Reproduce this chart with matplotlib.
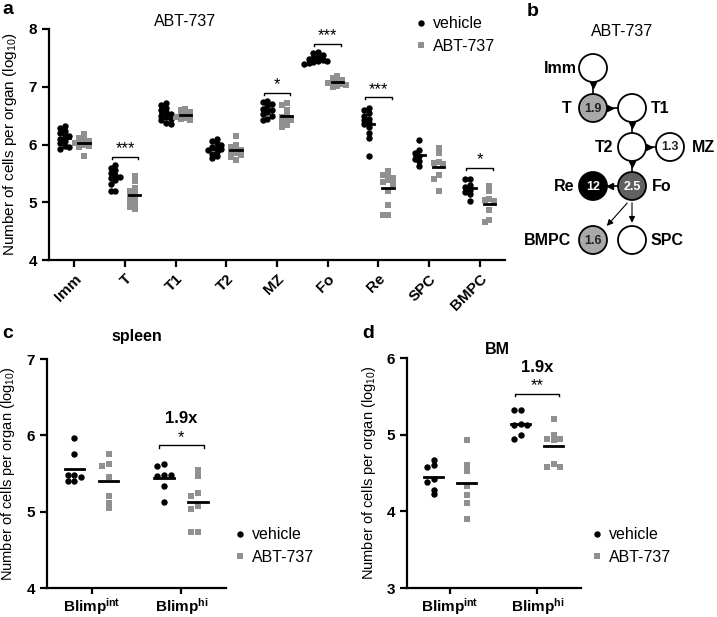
import numpy as np
import matplotlib
matplotlib.use('Agg')
import matplotlib.pyplot as plt
from matplotlib.patches import Circle
from matplotlib.lines import Line2D

plt.rcParams['font.family'] = ['Liberation Sans', 'DejaVu Sans']
plt.rcParams['mathtext.fontset'] = 'custom'
plt.rcParams['mathtext.rm'] = 'Liberation Sans'
plt.rcParams['mathtext.bf'] = 'Liberation Sans:bold'
plt.rcParams['mathtext.it'] = 'Liberation Sans:italic'

W, H = 717, 617
GRAY = '#8f8f8f'

# ---- panel a data (log10 cells per organ) ----
subsets = ["Imm", "T", "T1", "T2", "MZ", "Fo", "Re", "SPC", "BMPC"]
vehicle_a = [
    [6.32, 6.28, 6.24, 6.20, 6.16, 6.14, 6.10, 6.06, 6.02, 5.98, 5.95, 5.92],
    [5.65, 5.60, 5.55, 5.50, 5.47, 5.44, 5.42, 5.38, 5.32, 5.20, 5.20],
    [6.71, 6.68, 6.64, 6.60, 6.56, 6.53, 6.50, 6.48, 6.45, 6.42, 6.38, 6.36],
    [6.09, 6.06, 6.02, 5.99, 5.96, 5.94, 5.92, 5.90, 5.87, 5.84, 5.80, 5.77],
    [6.75, 6.74, 6.70, 6.66, 6.62, 6.60, 6.56, 6.52, 6.50, 6.45, 6.42],
    [7.60, 7.58, 7.55, 7.52, 7.50, 7.48, 7.47, 7.45, 7.44, 7.42, 7.41, 7.40],
    [6.63, 6.60, 6.55, 6.50, 6.45, 6.42, 6.38, 6.35, 6.30, 6.20, 6.11, 5.80],
    [6.08, 5.90, 5.85, 5.80, 5.75, 5.72, 5.62],
    [5.41, 5.40, 5.30, 5.26, 5.22, 5.18, 5.14, 5.02],
]
abt_a = [
    [6.18, 6.12, 6.08, 6.06, 6.04, 6.02, 6.00, 5.98, 5.95, 5.80],
    [5.45, 5.36, 5.25, 5.20, 5.16, 5.12, 5.08, 5.03, 4.98, 4.92, 4.88],
    [6.62, 6.60, 6.57, 6.54, 6.52, 6.50, 6.48, 6.46, 6.44, 6.42],
    [6.14, 6.00, 5.96, 5.92, 5.90, 5.88, 5.85, 5.82, 5.78, 5.74],
    [6.72, 6.68, 6.60, 6.52, 6.48, 6.44, 6.42, 6.38, 6.34, 6.30],
    [7.18, 7.16, 7.12, 7.10, 7.08, 7.07, 7.05, 7.03, 7.01, 6.99],
    [5.54, 5.48, 5.45, 5.42, 5.38, 5.35, 5.32, 5.20, 4.95, 4.78, 4.78],
    [5.94, 5.85, 5.70, 5.68, 5.66, 5.47, 5.40, 5.20],
    [5.28, 5.20, 5.06, 5.04, 5.02, 4.86, 4.70, 4.65],
]
sig_a = [("T", 5.79, "***"), ("MZ", 6.90, "*"), ("Fo", 7.74, "***"),
         ("Re", 6.82, "***"), ("BMPC", 5.60, "*")]

# ---- panel b data (fold reduction) ----
nodes = ["Imm", "T", "T1", "T2", "MZ", "Fo", "Re", "BMPC", "SPC"]
fold = ["", "1.9", "", "", "1.3", "2.5", "12", "1.6", ""]
node_fill = ["white", "#a9a9a9", "white", "white", "white", "#606060", "black", "#a9a9a9", "white"]

# ---- panels c, d data ----
blimp = [r"Blimp$^{\mathbf{int}}$", r"Blimp$^{\mathbf{hi}}$"]
vehicle_c = [[5.97, 5.76, 5.48, 5.48, 5.46, 5.40, 5.40],
             [5.63, 5.60, 5.48, 5.47, 5.48, 5.34, 5.13]]
abt_c = [[5.76, 5.62, 5.60, 5.45, 5.20, 5.11, 5.05],
         [5.54, 5.47, 5.25, 5.20, 5.07, 5.03, 4.74, 4.74]]
vehicle_d = [[4.67, 4.60, 4.58, 4.42, 4.38, 4.28, 4.22],
             [5.32, 5.32, 5.14, 5.13, 5.12, 5.00, 4.95]]
abt_d = [[4.93, 4.60, 4.53, 4.33, 4.21, 4.11, 3.90],
         [5.20, 5.00, 4.95, 4.94, 4.93, 4.62, 4.58, 4.58]]


def px(x, y):
    return x / W, 1 - y / H


def swarm(vals, dy, step):
    placed = []
    offs = []
    for v in vals:
        for c in [0, -1, 1, -2, 2, -3, 3, -4, 4]:
            if all(abs(v - pv) > dy or c != pc for pv, pc in placed):
                break
        placed.append((v, c))
        offs.append(c * step)
    return np.array(offs)


def style_axes(ax):
    for s in ['top', 'right']:
        ax.spines[s].set_visible(False)
    for s in ['left', 'bottom']:
        ax.spines[s].set_linewidth(1.6)
    ax.tick_params(width=1.6, length=5, labelsize=11)
    for lab in ax.get_yticklabels():
        lab.set_fontweight('bold')


def draw_groups(ax, veh, abt, dx, dy, step, half):
    for i, (v, a) in enumerate(zip(veh, abt)):
        v = np.array(v)
        a = np.array(a)
        ax.plot(i - dx + swarm(v, dy, step), v, 'o', color='black', ms=4.6, mew=0, zorder=3)
        ax.plot(i + dx + swarm(a, dy, step), a, 's', color=GRAY, ms=4.2, mew=0, zorder=3)
        ax.plot([i - dx - half, i - dx + half], [v.mean()] * 2, color='black', lw=2, zorder=4)
        ax.plot([i + dx - half, i + dx + half], [a.mean()] * 2, color='black', lw=2, zorder=4)


def bracket(ax, x, y, label, hw, tick, fs=12):
    ax.plot([x - hw, x - hw, x + hw, x + hw], [y - tick, y, y, y - tick], color='black', lw=1)
    ax.text(x, y + tick * 0.2, label, ha='center', va='bottom', fontsize=fs)


def legend(ax, x, y):
    ax.legend(handles=[Line2D([], [], marker='o', ls='', color='black', ms=4.6, mew=0, label='vehicle'),
                       Line2D([], [], marker='s', ls='', color=GRAY, ms=4.2, mew=0, label='ABT-737')],
              loc='upper left', bbox_to_anchor=px(x, y), bbox_transform=fig.transFigure,
              frameon=False, fontsize=11.5, handlelength=0.6, handletextpad=0.45, labelspacing=0.45,
              borderaxespad=0)


fig = plt.figure(figsize=(W / 100, H / 100), dpi=100)

# ---- panel b (diagram, pixel coordinates) ----
axb = fig.add_axes([0, 0, 1, 1])
axb.set_xlim(0, W)
axb.set_ylim(H, 0)
axb.axis('off')
axb.patch.set_visible(False)

pos = {"Imm": (593, 68), "T": (593, 108), "T1": (632, 108), "T2": (632, 147),
       "MZ": (670, 147), "Fo": (632, 186), "Re": (593, 186), "BMPC": (593, 240), "SPC": (632, 240)}
lab_pos = {"Imm": (577, 68, 'right'), "T": (571, 108, 'right'), "T1": (651, 108, 'left'),
           "T2": (613, 147, 'right'), "MZ": (692, 147, 'left'), "Fo": (652, 186, 'left'),
           "Re": (574, 186, 'right'), "BMPC": (571, 240, 'right'), "SPC": (651, 240, 'left')}
R = 14

# connecting lines with small triangle heads
links = [("Imm", "T", 'v'), ("T", "T1", '>'), ("T1", "T2", 'v'), ("T2", "MZ", '>'), ("T2", "Fo", 'v')]
for a, b, m in links:
    (x0, y0), (x1, y1) = pos[a], pos[b]
    axb.plot([x0, x1], [y0, y1], color='black', lw=1.2, zorder=1)
    if m == 'v':
        axb.plot(x0, y0 + R + 2.5, 'v', color='black', ms=5, zorder=1)
    else:
        axb.plot(x0 + R + 2.5, y0, '>', color='black', ms=5, zorder=1)
axb.plot([pos["Fo"][0], pos["Re"][0]], [pos["Re"][1]] * 2, color='black', lw=1.2, zorder=1)
axb.plot(pos["Re"][0] + R + 3, pos["Re"][1], '<', color='black', ms=5, zorder=1)
axb.annotate("", xy=(605, 228), xytext=(629, 201),
             arrowprops=dict(arrowstyle='-|>', color='black', lw=0.8, mutation_scale=9))
axb.annotate("", xy=(632, 225.5), xytext=(632, 200),
             arrowprops=dict(arrowstyle='-|>', color='black', lw=0.8, mutation_scale=9))

for name, f, c in zip(nodes, fold, node_fill):
    x, y = pos[name]
    axb.add_patch(Circle((x, y), R, facecolor=c, edgecolor='black', lw=1.3, zorder=2))
    if f:
        tc = 'white' if c in ('black', '#606060') else '#222222'
        axb.text(x, y + 0.5, f, ha='center', va='center', fontsize=9, fontweight='bold', color=tc, zorder=3)
    lx, ly, ha = lab_pos[name]
    axb.text(lx, ly + 0.5, name, ha=ha, va='center', fontsize=11.5, fontweight='bold')
axb.text(622, 31, "ABT-737", ha='center', va='center', fontsize=11.5)

# ---- panel a ----
axa = fig.add_axes([49 / W, 1 - 260 / H, 456 / W, 231 / H])
draw_groups(axa, vehicle_a, abt_a, 0.19, 0.07, 0.09, 0.11)
for name, y, s in sig_a:
    bracket(axa, subsets.index(name), y, s, 0.26, 0.04)
axa.set_xlim(-0.5, 8.5)
axa.set_ylim(4, 8)
axa.set_yticks([4, 5, 6, 7, 8])
axa.set_xticks(range(len(subsets)))
axa.set_xticklabels(subsets, rotation=45, ha='right', rotation_mode='anchor', fontweight='bold')
style_axes(axa)
axa.set_ylabel(r"Number of cells per organ (log$_{10}$)", fontsize=11)
axa.yaxis.set_label_coords(-0.066, 0.5)
fig.text(*px(185, 22), "ABT-737", ha='center', va='center', fontsize=11.5)
legend(axa, 410, 10)

# ---- panels c and d ----
for box, veh, abt, ylim, title, tpos, leg_x in [
        ((46.7, 226, 359, 588), vehicle_c, abt_c, (4, 7), "spleen", (137, 337), 229),
        ((406.7, 580.7, 358, 588), vehicle_d, abt_d, (3, 6), "BM", (497, 350), 586)]:
    x0, x1, yt, yb = box
    ax = fig.add_axes([x0 / W, 1 - yb / H, (x1 - x0) / W, (yb - yt) / H])
    draw_groups(ax, veh, abt, 0.19, 0.06, 0.075, 0.11)
    ax.set_xlim(-0.5, 1.5)
    ax.set_ylim(*ylim)
    ax.set_yticks(range(ylim[0], ylim[1] + 1))
    ax.set_xticks([0, 1])
    ax.set_xticklabels(blimp, fontweight='bold', fontsize=10)
    style_axes(ax)
    ax.tick_params(axis='x', pad=1.5, length=4.5)
    ax.set_ylabel(r"Number of cells per organ (log$_{10}$)", fontsize=10.5)
    ax.yaxis.set_label_coords(-0.163, 0.5)
    fig.text(*px(*tpos), title, ha='center', va='center', fontsize=11.5, fontweight='bold')
    legend(ax, leg_x, 521)

axc, axd = fig.axes[-2], fig.axes[-1]
bracket(axc, 1, 5.87, "*", 0.25, 0.03)
axc.text(1, 6.12, "1.9x", ha='center', va='bottom', fontsize=12, fontweight='bold')
bracket(axd, 1, 5.53, "**", 0.25, 0.03)
axd.text(1, 5.78, "1.9x", ha='center', va='bottom', fontsize=12, fontweight='bold')

# panel letters
for letter, (x, y) in zip("abcd", [(8, 10), (533, 12), (8, 333), (368, 333)]):
    fig.text(*px(x, y), letter, ha='center', va='center', fontsize=14, fontweight='bold')

fig.savefig('out.png', dpi=100)
